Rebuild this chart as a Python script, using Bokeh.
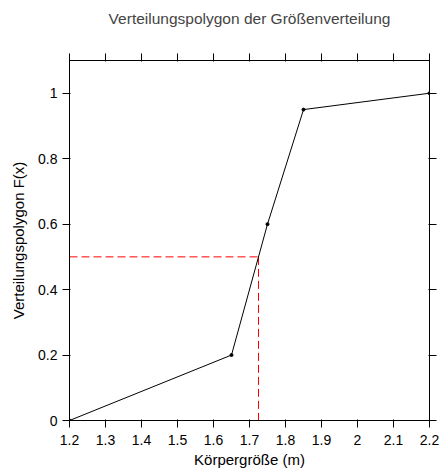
from bokeh.plotting import figure
from bokeh.models import LinearAxis, FixedTicker, Range1d, CustomLabelingPolicy
from bokeh.embed import file_html
from bokeh.resources import INLINE

# data
groesse = [1.2, 1.65, 1.75, 1.85, 2.2]
F_werte = [0.0, 0.2, 0.6, 0.95, 1.0]
median_x = 1.725
median_y = 0.5
x_ticks = [1.2, 1.3, 1.4, 1.5, 1.6, 1.7, 1.8, 1.9, 2.0, 2.1, 2.2]
x_tick_labels = ["1.2", "1.3", "1.4", "1.5", "1.6", "1.7", "1.8", "1.9", "2", "2.1", "2.2"]
y_ticks = [0, 0.2, 0.4, 0.6, 0.8, 1.0]
y_tick_labels = ["0", "0.2", "0.4", "0.6", "0.8", "1"]
titel = "Verteilungspolygon der Größenverteilung"

FONT = "Liberation Sans"

p = figure(width=441, height=470, output_backend="svg", toolbar_location=None,
           x_range=Range1d(1.2, 2.2), y_range=Range1d(0, 1.1),
           x_axis_location=None, y_axis_location=None,
           min_border_left=69, min_border_right=12, min_border_top=60, min_border_bottom=49)
p.grid.visible = False
p.outline_line_color = "black"
p.outline_line_width = 1

p.title.text = titel
p.title.align = "center"
p.title.text_font = FONT
p.title.text_font_size = "15.5px"
p.title.text_font_style = "normal"
p.title.standoff = 0

HIDE_ALL = """
const n = indices.size;
for (let i = 0; i < n; i++) {
  if (typeof indices.unset === 'function') indices.unset(i);
  else if (typeof indices.remove === 'function') indices.remove(i);
  else if (typeof indices.set === 'function') indices.set(i, false);
}
return indices;
"""

def make_axis(ticks, labels, show_labels, label_text=None, label_standoff=6, title_standoff=3):
    ax = LinearAxis(ticker=FixedTicker(ticks=ticks))
    ax.major_label_overrides = {t: l for t, l in zip(ticks, labels)}
    ax.axis_line_color = "black"
    ax.major_tick_line_color = "black"
    ax.minor_tick_line_color = None
    ax.major_tick_in = 1
    ax.major_tick_out = 7
    ax.major_label_text_font = FONT
    ax.major_label_text_color = "black"
    if show_labels:
        ax.major_label_text_font_size = "14px"
    else:
        ax.major_label_text_font_size = "1px"
        ax.major_label_policy = CustomLabelingPolicy(code=HIDE_ALL)
    ax.major_label_standoff = label_standoff
    if label_text:
        ax.axis_label = label_text
        ax.axis_label_text_font = FONT
        ax.axis_label_text_font_size = "15px"
        ax.axis_label_text_font_style = "normal"
        ax.axis_label_text_color = "black"
        ax.axis_label_standoff = title_standoff
    return ax

p.add_layout(make_axis(x_ticks, x_tick_labels, True, "Körpergröße (m)", 7, 3), "below")
p.add_layout(make_axis(y_ticks, y_tick_labels, True, "Verteilungspolygon F(x)", 5, 8), "left")
# the top axis' (hidden) label standoff keeps the title up near the top edge
p.add_layout(make_axis(x_ticks, x_tick_labels, False, label_standoff=23), "above")
p.add_layout(make_axis(y_ticks, y_tick_labels, False, label_standoff=0), "right")

# median guide lines
p.line([groesse[0], median_x], [median_y, median_y], line_color="#ff0000",
       line_dash="8 4", line_width=1)
p.line([median_x, median_x], [median_y, 0], line_color="#ff0000",
       line_dash="8 4", line_width=1)

p.line(groesse, F_werte, line_color="black", line_width=1)
p.scatter(groesse, F_werte, size=3, color="black")

open("out.html", "w").write(file_html(p, INLINE))
